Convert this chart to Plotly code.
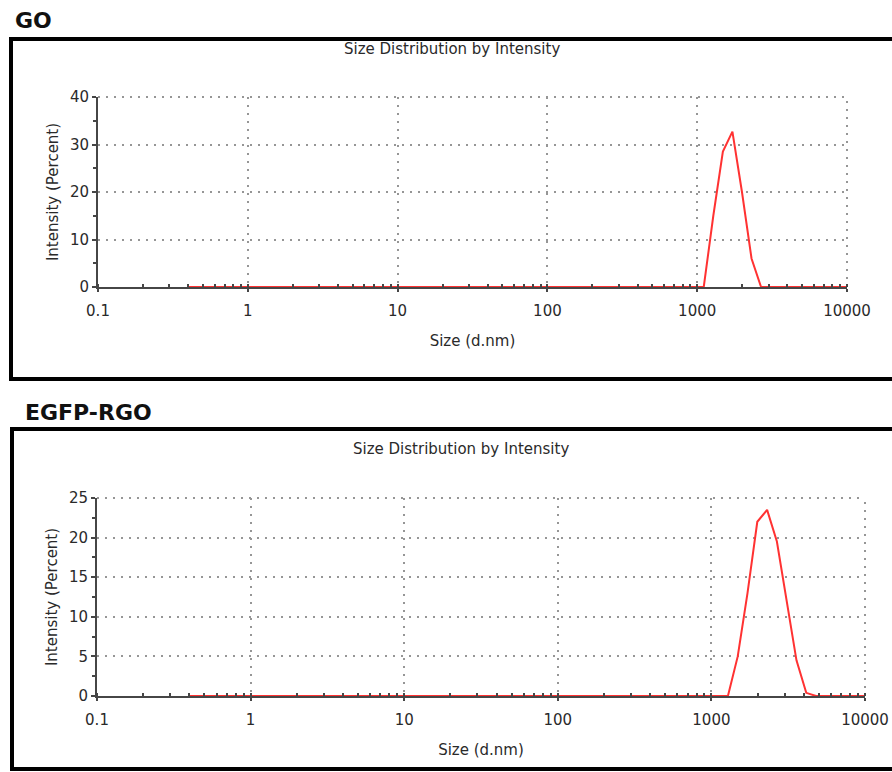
import plotly.graph_objects as go

# Size bins (d.nm) used by the instrument (log spaced 0.4 - 10000)
size_bins = [0.4, 0.4638, 0.5377, 0.6234, 0.7228, 0.8381, 0.9717, 1.127, 1.306, 1.515,
             1.756, 2.036, 2.361, 2.737, 3.091, 3.580, 4.145, 4.801, 5.560, 6.439,
             7.456, 8.635, 10.00, 11.58, 13.54, 15.69, 18.17, 21.04, 24.36, 28.21,
             32.67, 37.84, 43.82, 50.75, 58.77, 68.06, 78.82, 91.28, 105.7, 122.4,
             141.8, 164.2, 190.1, 220.2, 255.0, 295.3, 342.0, 396.1, 458.7, 531.2,
             615.1, 712.4, 825.0, 955.4, 1106, 1281, 1484, 1718, 1990, 2305,
             2669, 3091, 3580, 4145, 4801, 5560, 6439, 7456, 8635, 10000]

# Non-zero intensities (percent), keyed by bin size
go_peak_sizes = [1281, 1484, 1718, 1990, 2305]
go_peak_values = [15.0, 28.5, 32.7, 20.0, 6.0]

egfp_peak_sizes = [1484, 1718, 1990, 2305, 2669, 3091, 3580, 4145]
egfp_peak_values = [5.0, 13.0, 22.0, 23.5, 19.5, 12.0, 4.5, 0.4]

x_tick_vals = [0.1, 1, 10, 100, 1000, 10000]
x_tick_text = ["0.1", "1", "10", "100", "1000", "10000"]
go_y_ticks = [0, 10, 20, 30, 40]
egfp_y_ticks = [0, 5, 10, 15, 20, 25]

panel_titles = ["GO", "EGFP-RGO"]
chart_title = "Size Distribution by Intensity"
x_title = "Size (d.nm)"
y_title = "Intensity (Percent)"


def build_series(sizes, values):
    lookup = dict(zip(sizes, values))
    return [lookup.get(s, 0.0) for s in size_bins]


go_values = build_series(go_peak_sizes, go_peak_values)
egfp_values = build_series(egfp_peak_sizes, egfp_peak_values)

W, H = 892, 772
RED = "rgb(255,50,50)"
FONT = "DejaVu Sans, sans-serif"
TXT = "#2a2a2a"
AXC = "rgb(70,70,70)"
GRIDC = "rgb(150,150,150)"
DOTS = "2px,6px"


def px_x(p):
    return p / W


def px_y(p):
    return 1 - p / H


fig = go.Figure()
fig.add_trace(go.Scatter(x=size_bins, y=go_values, mode="lines",
                         line=dict(color=RED, width=2), xaxis="x", yaxis="y",
                         showlegend=False, cliponaxis=False))
fig.add_trace(go.Scatter(x=size_bins, y=egfp_values, mode="lines",
                         line=dict(color=RED, width=2), xaxis="x2", yaxis="y2",
                         showlegend=False, cliponaxis=False))

grid = dict(showgrid=True, gridcolor=GRIDC, gridwidth=2, griddash=DOTS)
axline = dict(showline=True, linecolor=AXC, linewidth=2, zeroline=False, automargin=False,
              tickfont=dict(family=FONT, size=15, color=TXT))


def xaxis(domain, anchor):
    return dict(type="log", range=[-1, 4], domain=domain, anchor=anchor,
                tickvals=x_tick_vals, ticktext=x_tick_text,
                ticks="outside", ticklen=3, tickcolor=AXC, tickwidth=2, ticklabelstandoff=6,
                minor=dict(ticks="inside", dtick="D1", ticklen=3, tickcolor=AXC,
                           tickwidth=2, showgrid=False),
                title=dict(text=x_title, font=dict(family=FONT, size=15, color=TXT), standoff=16),
                **grid, **axline)


def yaxis(domain, anchor, rng, ticks, minor_step):
    return dict(range=rng, domain=domain, anchor=anchor, tickvals=ticks,
                ticks="outside", ticklen=4, tickcolor=AXC, tickwidth=2,
                minor=dict(ticks="outside", dtick=minor_step, ticklen=3,
                           tickcolor=AXC, tickwidth=2, showgrid=False),
                title=dict(text=y_title, font=dict(family=FONT, size=15, color=TXT), standoff=8),
                **grid, **axline)


fig.update_layout(
    width=W, height=H, margin=dict(l=0, r=0, t=0, b=0),
    paper_bgcolor="white", plot_bgcolor="white",
    xaxis=xaxis([px_x(98), px_x(847)], "y"),
    yaxis=yaxis([px_y(287), px_y(97)], "x", [0, 40], go_y_ticks, 5),
    xaxis2=xaxis([px_x(97), px_x(865)], "y2"),
    yaxis2=yaxis([px_y(696), px_y(498)], "x2", [0, 25], egfp_y_ticks, 2.5),
)

# Dotted grid lines along the top and right edges of each plot area
for xa, ya in [("x", "y"), ("x2", "y2")]:
    fig.add_shape(type="line", xref=xa + " domain", yref=ya + " domain",
                  x0=0, x1=1, y0=1, y1=1, line=dict(color=GRIDC, width=2, dash=DOTS), layer="below")
    fig.add_shape(type="line", xref=xa + " domain", yref=ya + " domain",
                  x0=1, x1=1, y0=0, y1=1, line=dict(color=GRIDC, width=2, dash=DOTS), layer="below")

# Panel frames
for (top, bottom, left) in [(39, 379, 11), (429, 769, 12)]:
    fig.add_shape(type="rect", xref="paper", yref="paper",
                  x0=px_x(left), x1=1.02, y0=px_y(bottom), y1=px_y(top),
                  line=dict(color="black", width=4), fillcolor="rgba(0,0,0,0)", layer="below")

# Panel labels
fig.add_annotation(text="<b>%s</b>" % panel_titles[0], xref="paper", yref="paper",
                   x=px_x(13), y=px_y(21), xanchor="left", yanchor="middle", showarrow=False,
                   font=dict(family="DejaVu Sans, sans-serif", size=22, color="#111"))
fig.add_annotation(text="<b>%s</b>" % panel_titles[1], xref="paper", yref="paper",
                   x=px_x(23), y=px_y(412), xanchor="left", yanchor="middle", showarrow=False,
                   font=dict(family="DejaVu Sans, sans-serif", size=22, color="#111"))

# Chart titles
fig.add_annotation(text=chart_title, xref="paper", yref="paper",
                   x=px_x(452), y=px_y(49), xanchor="center", yanchor="middle", showarrow=False,
                   font=dict(family=FONT, size=15, color=TXT))
fig.add_annotation(text=chart_title, xref="paper", yref="paper",
                   x=px_x(461), y=px_y(449), xanchor="center", yanchor="middle", showarrow=False,
                   font=dict(family=FONT, size=15, color=TXT))

# remove the default page margin so the 892x772 figure fills the window exactly
fig.write_html("out.html", config={"displayModeBar": False},
               post_script="document.body.style.margin='0';document.body.style.overflow='hidden';")
